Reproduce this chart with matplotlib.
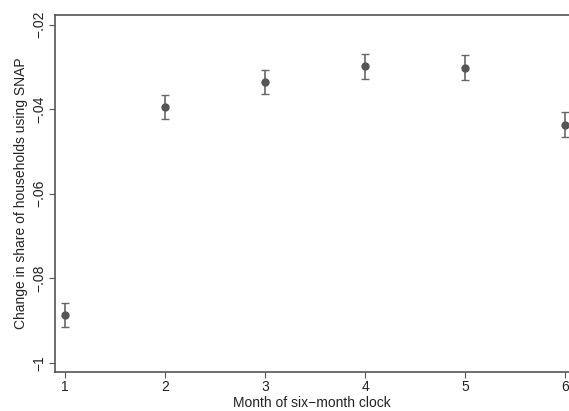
import numpy as np
import matplotlib.pyplot as plt

plt.rcParams['font.family'] = ['Liberation Sans', 'DejaVu Sans']

# Data
month = [1, 2, 3, 4, 5, 6]
coef = [-0.0888, -0.0395, -0.0336, -0.0298, -0.0303, -0.0438]
ci_low = [-0.0916, -0.0424, -0.0364, -0.0329, -0.0331, -0.0466]
ci_high = [-0.0859, -0.0367, -0.0308, -0.0270, -0.0272, -0.0407]

ytick_vals = [-0.1, -0.08, -0.06, -0.04, -0.02]
ytick_labels = ['\u22121', '\u2212.08', '\u2212.06', '\u2212.04', '\u2212.02']

fig = plt.figure(figsize=(5.69, 4.11), dpi=100)
ax = fig.add_axes([55 / 569, 39 / 411, 514 / 569, 357 / 411])

coef = np.array(coef)
yerr = [coef - np.array(ci_low), np.array(ci_high) - coef]
ax.errorbar(month, coef, yerr=yerr, fmt='o', color='#555555', ecolor='#666666',
            markersize=5, elinewidth=1.2, capsize=3, capthick=1.0)

ax.set_xlim(0.9, 6.04)
ax.set_ylim(-0.1022, -0.01775)

ax.set_xticks(month)
ax.set_xticklabels([str(m) for m in month])
ax.set_yticks(ytick_vals)
ax.set_yticklabels(ytick_labels, rotation=90, va='center')

ax.tick_params(axis='both', direction='out', length=4, width=0.8,
               color='#555555', labelsize=10, labelcolor='#222222', pad=2)

for side in ['left', 'bottom', 'top']:
    ax.spines[side].set_color('#555555')
    ax.spines[side].set_linewidth(1.2)
ax.spines['right'].set_visible(False)

ax.set_xlabel('Month of six\u2212month clock', fontsize=10, color='#222222', labelpad=1)
ax.set_ylabel('Change in share of households using SNAP', fontsize=10, color='#222222', labelpad=3)

fig.savefig('out.png', dpi=100)
